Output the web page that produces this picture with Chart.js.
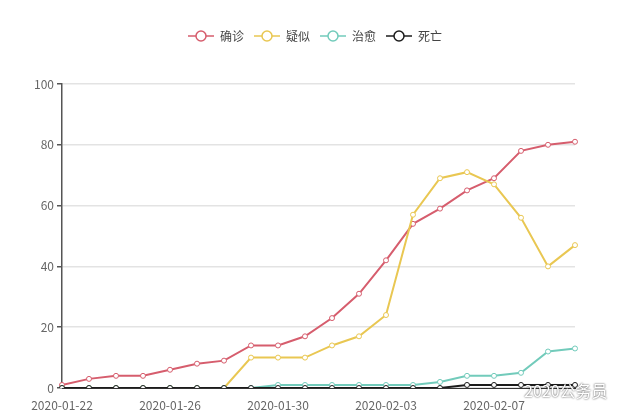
<!DOCTYPE html>
<html>
<head>
<meta charset="utf-8">
<script src="https://cdn.jsdelivr.net/npm/chart.js@4"></script>
<style>
    html, body { margin: 0; padding: 0; background: #fff; }
    #wrap { width: 622px; height: 420px; }
</style>
</head>
<body>
<div id="wrap"><canvas id="trendChart" width="622" height="420"></canvas></div>
<script>
// Dates shown on the x axis
const dates = [
    '2020-01-22', '2020-01-23', '2020-01-24', '2020-01-25', '2020-01-26',
    '2020-01-27', '2020-01-28', '2020-01-29', '2020-01-30', '2020-01-31',
    '2020-02-01', '2020-02-02', '2020-02-03', '2020-02-04', '2020-02-05',
    '2020-02-06', '2020-02-07', '2020-02-08', '2020-02-09', '2020-02-10'
];

// Series
const confirmed = [1, 3, 4, 4, 6, 8, 9, 14, 14, 17, 23, 31, 42, 54, 59, 65, 69, 78, 80, 81];
const suspected = [0, 0, 0, 0, 0, 0, 0, 10, 10, 10, 14, 17, 24, 57, 69, 71, 67, 56, 40, 47];
const cured     = [0, 0, 0, 0, 0, 0, 0, 0, 1, 1, 1, 1, 1, 1, 2, 4, 4, 5, 12, 13];
const deaths    = [0, 0, 0, 0, 0, 0, 0, 0, 0, 0, 0, 0, 0, 0, 0, 1, 1, 1, 1, 1];

const yTicks = [0, 20, 40, 60, 80, 100];

const FONT = '"Noto Sans CJK SC", "Noto Sans", sans-serif';
const colors = {
    confirmed: '#d65d6d',
    suspected: '#e9c752',
    cured: '#72cbbb',
    deaths: '#1c1c1c'
};

// legend symbol: short line with a hollow circle on it
function legendSymbol(color) {
    const c = document.createElement('canvas');
    c.width = 26;
    c.height = 14;
    const g = c.getContext('2d');
    g.strokeStyle = color;
    g.lineWidth = 1.5;
    g.beginPath();
    g.moveTo(0, 7);
    g.lineTo(26, 7);
    g.stroke();
    g.beginPath();
    g.arc(13, 7, 5, 0, Math.PI * 2);
    g.fillStyle = '#fff';
    g.fill();
    g.stroke();
    return c;
}

function makeSeries(label, data, color, order) {
    return {
        label: label,
        data: data,
        borderColor: color,
        backgroundColor: '#fff',
        borderWidth: 2,
        pointRadius: 2.5,
        pointBorderWidth: 1,
        pointBackgroundColor: '#fff',
        pointBorderColor: color,
        tension: 0,
        order: order
    };
}

// fixed legend height so the plot area starts where it does in the reference,
// and legend centred on the whole canvas rather than the padded box
const layoutFix = {
    id: 'layoutFix',
    beforeInit(chart) {
        const legend = chart.legend;
        if (legend) {
            const fit = legend.fit;
            legend.fit = function () {
                fit.call(this);
                this.height = 64;
            };
        }
    },
    afterLayout(chart) {
        const legend = chart.legend;
        if (legend) {
            legend.left = 55;
            legend.right = 575;
        }
    }
};

// watermark in the bottom right corner
const watermark = {
    id: 'watermark',
    afterDraw(chart) {
        const ctx = chart.ctx;
        ctx.save();
        ctx.font = '16px ' + FONT;
        ctx.textBaseline = 'middle';
        ctx.textAlign = 'left';
        ctx.shadowColor = 'rgba(0,0,0,0.85)';
        ctx.shadowBlur = 2;
        ctx.fillStyle = '#fff';
        ctx.fillText('2020公务员', 524, 391);
        ctx.restore();
    }
};

const ctx = document.getElementById('trendChart').getContext('2d');
new Chart(ctx, {
    type: 'line',
    data: {
        labels: dates,
        datasets: [
            makeSeries('确诊', confirmed, colors.confirmed, 4),
            makeSeries('疑似', suspected, colors.suspected, 3),
            makeSeries('治愈', cured, colors.cured, 2),
            makeSeries('死亡', deaths, colors.deaths, 1)
        ]
    },
    options: {
        responsive: false,
        animation: false,
        devicePixelRatio: 1,
        layout: { padding: { top: 20, right: 47, bottom: 0, left: 0 } },
        plugins: {
            tooltip: { enabled: false },
            legend: {
                position: 'top',
                align: 'center',
                labels: {
                    usePointStyle: true,
                    pointStyleWidth: 26,
                    padding: 10,
                    color: '#444',
                    font: { family: FONT, size: 12 },
                    generateLabels(chart) {
                        return chart.data.datasets.map((ds, i) => ({
                            text: ds.label,
                            datasetIndex: i,
                            pointStyle: legendSymbol(ds.borderColor),
                            fillStyle: 'transparent',
                            strokeStyle: 'transparent',
                            lineWidth: 0,
                            fontColor: '#444',
                            hidden: false
                        }));
                    }
                }
            }
        },
        scales: {
            x: {
                offset: false,
                grid: { display: false },
                border: { color: '#333', width: 1 },
                afterFit(scale) { scale.height = 32; },
                ticks: {
                    autoSkip: false,
                    maxRotation: 0,
                    padding: 2,
                    color: '#666',
                    font: { family: FONT, size: 12 },
                    callback(value, index) {
                        return index % 4 === 0 ? dates[index] : '';
                    }
                }
            },
            y: {
                min: 0,
                max: 100,
                afterFit(scale) { scale.width = 62; },
                afterBuildTicks(scale) {
                    scale.ticks = yTicks.map(v => ({ value: v }));
                },
                grid: {
                    color: '#e3e3e3',
                    tickColor: '#555',
                    tickLength: 5,
                    lineWidth: 1.5
                },
                border: { color: '#555', width: 1.5 },
                ticks: {
                    padding: 3,
                    color: '#666',
                    font: { family: FONT, size: 12 }
                }
            }
        }
    },
    plugins: [layoutFix, watermark]
});
</script>
</body>
</html>
